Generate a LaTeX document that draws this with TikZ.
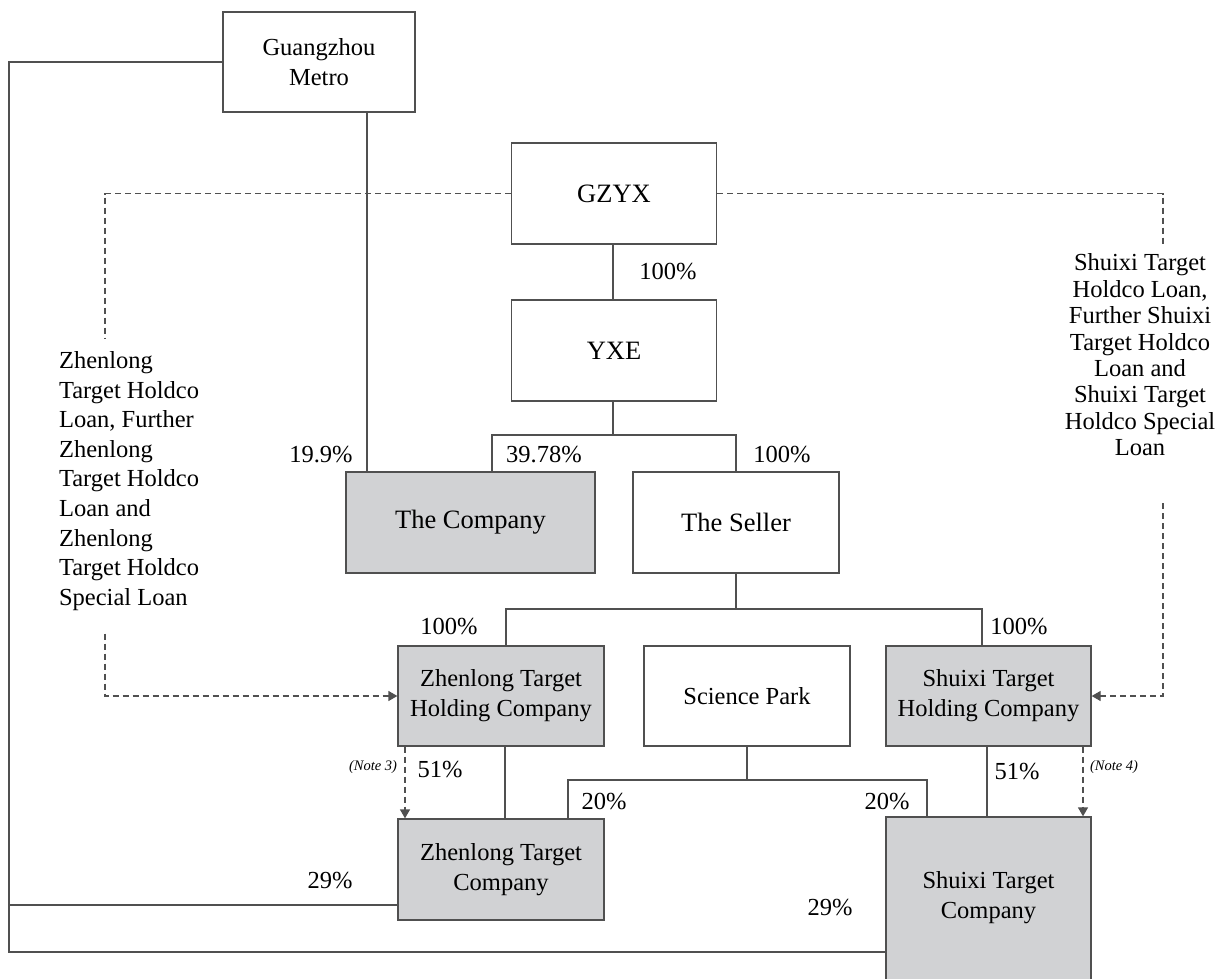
\documentclass[tikz,border=0pt]{standalone}
\usepackage{fontspec}
\setmainfont{Liberation Serif}
\usepackage{xcolor}
\usepackage{tikz}
\usetikzlibrary{arrows.meta}
\usetikzlibrary{calc}
\usetikzlibrary{positioning}

\definecolor{boxgray}{RGB}{209,210,212}
\definecolor{linegray}{RGB}{80,80,80}

\begin{document}
\begin{tikzpicture}[x=0.5pt, y=-0.5pt,
    link/.style={draw=linegray, line width=0.65pt},
    dashline/.style={link, dash pattern=on 3pt off 2pt},
    loanline/.style={dashline, -{Triangle[width=5pt,length=4.5pt]}},
    entity/.style={link, align=center, inner sep=0pt,
      font=\fontsize{12.25}{15}\selectfont},
    big/.style={font=\fontsize{13.25}{16}\selectfont},
    held/.style={entity, fill=boxgray},
    share/.style={font=\fontsize{12.25}{15}\selectfont, inner sep=0pt},
    note/.style={font=\fontsize{7.25}{9}\selectfont\itshape, inner sep=0pt}]

    \useasboundingbox (0,0) rectangle (1221,979);

    % entities
    \node[entity, minimum width=96pt, minimum height=50pt]
    (gzm) at (319,62) {Guangzhou\\Metro};
    \node[entity, big, minimum width=102.5pt, minimum height=50.5pt]
    (gzyx) at (614,193.5) {GZYX};
    \node[entity, big, minimum width=102.5pt, minimum height=50.5pt]
    (yxe) at (614,350.5) {YXE};
    \node[held, big, minimum width=124.5pt, minimum height=50.5pt]
    (company) at (470.5,522.5) {The Company};
    \node[entity, big, minimum width=103pt, minimum height=50.5pt]
    (seller) at (736,522.5) {The Seller};
    \node[held, minimum width=103pt, minimum height=50pt]
    (zhc) at (501,696) {Zhenlong Target\\Holding Company};
    \node[entity, minimum width=103pt, minimum height=50pt]
    (park) at (747,696) {Science Park};
    \node[held, minimum width=102.5pt, minimum height=50pt]
    (shc) at (988.5,696) {Shuixi Target\\Holding Company};
    \node[held, minimum width=103pt, minimum height=50.5pt]
    (ztc) at (501,869.5) {Zhenlong Target\\Company};
    \node[held, minimum width=102.5pt, minimum height=95pt]
    (stc) at (988.5,912) {};
    \node[align=center, font=\fontsize{12.25}{15}\selectfont]
    (stctext) at (988.5,898) {Shuixi Target\\Company};

    % loans
    \node[anchor=west, align=left, font=\fontsize{12.25}{14.8}\selectfont]
    (zloan) at (52,481) {Zhenlong\\Target Holdco\\Loan, Further\\Zhenlong\\%
      Target Holdco\\Loan and\\Zhenlong\\Target Holdco\\Special Loan};
    \node[align=center, font=\fontsize{12.25}{13.2}\selectfont]
    (sloan) at (1140,355) {Shuixi Target\\Holdco Loan,\\Further Shuixi\\%
      Target Holdco\\Loan and\\Shuixi Target\\Holdco Special\\Loan};

    \draw[dashline] (gzyx.west) -| ([yshift=3pt]zloan.north -| 105,0);
    \draw[loanline] ([yshift=-8pt]zloan.south -| 105,0) |- (zhc.west);
    \draw[dashline] (gzyx.east) -| (sloan.north -| 1163,0);
    \draw[loanline] ([yshift=-20pt]sloan.south -| 1163,0) |- (shc.east);

    % Guangzhou Metro
    \draw[link] (gzm.south -| 367,0) -- (company.north -| 367,0);
    \draw[link] (gzm.west) -| (9,952) -- (stc.west |- 0,952);
    \draw[link] (9,905) -- (ztc.west |- 0,905);

    % GZYX, YXE and the Seller
    \draw[link] (gzyx.south -| 613,0) -- (yxe.north -| 613,0);
    \draw[link] (yxe.south -| 613,0) -- (613,435);
    \draw[link] (company.north -| 492,0) |- (seller.north |- 0,435)
    -- (seller.north);
    \draw[link] (seller.south) -- (seller.south |- 0,609);
    \draw[link] (zhc.north -| 506,0) |- (982,609) -- (shc.north -| 982,0);

    % Science Park
    \draw[link] (park.south) -- (park.south |- 0,780);
    \draw[link] (ztc.north -| 568,0) |- (927,780) -- (stc.north -| 927,0);

    % holding companies
    \draw[link] (zhc.south -| 505,0) -- (ztc.north -| 505,0);
    \draw[link] (shc.south -| 987,0) -- (stc.north -| 987,0);
    \draw[loanline] (zhc.south -| 405,0) -- (ztc.north -| 405,0);
    \draw[loanline] (shc.south -| 1083,0) -- (stc.north -| 1083,0);

    \foreach \px/\py/\pct [count=\i] in {668/272/100, 321/455/19.9,
      544/455/39.78, 782/455/100, 449/627/100, 1019/627/100,
      440/770/51, 1017/772/51, 604/802/20, 887/802/20,
      330/881/29, 830/908/29} {
      \node[share] (share\i) at (\px,\py) {\pct\%};
    }

    \node[note] (note3) at (373,767) {(Note 3)};
    \node[note] (note4) at (1114,767) {(Note 4)};

  \end{tikzpicture}
\end{document}
